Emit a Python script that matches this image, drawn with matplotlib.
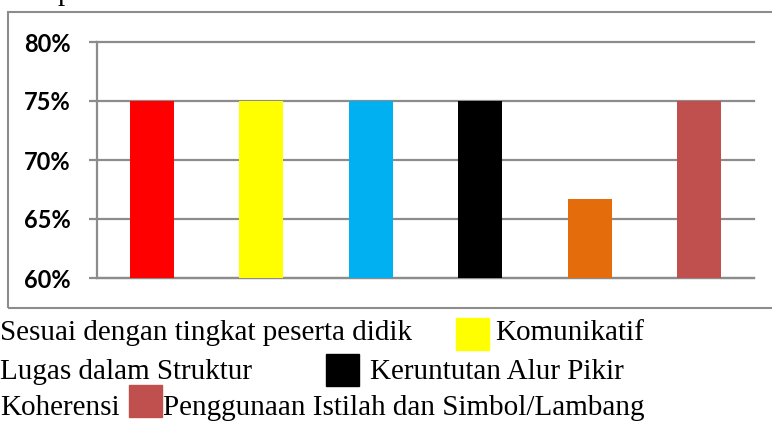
import matplotlib
matplotlib.use('Agg')
import matplotlib.pyplot as plt
from matplotlib.patches import Rectangle
from matplotlib.ticker import FuncFormatter

# aspek penilaian and their scores (percent)
categories = ['Sesuai dengan tingkat peserta didik', 'Komunikatif',
              'Lugas dalam Struktur', 'Keruntutan Alur Pikir',
              'Koherensi', 'Penggunaan Istilah dan Simbol/Lambang']
values = [75, 75, 75, 75, 66.67, 75]
colors = ['#FF0000', '#FFFF00', '#00B0F0', '#000000', '#E46C0A', '#C0504D']
yticks = [60, 65, 70, 75, 80]

W, H = 772, 421
GRID = '#8C8C8C'


def fx(x):
    return x / W


def fy(y):
    return 1 - y / H


fig = plt.figure(figsize=(W / 100, H / 100), dpi=100)

# outer chart frame (right edge falls outside the picture)
fig.patches.append(Rectangle((fx(8), fy(308)), fx(780) - fx(8), fy(12) - fy(308),
                             transform=fig.transFigure, fill=False,
                             edgecolor=GRID, linewidth=1.5))

ax = fig.add_axes([fx(97), fy(278), fx(754) - fx(97), fy(42) - fy(278)])
x = range(len(values))
ax.bar(x, [v - yticks[0] for v in values], bottom=yticks[0], width=0.4,
       color=colors, zorder=3)

ax.set_xlim(-0.5, len(values) - 0.5)
ax.set_ylim(yticks[0], yticks[-1])
ax.set_yticks(yticks)
ax.yaxis.set_major_formatter(FuncFormatter(lambda v, p: f'{v:.0f}%'))
ax.set_xticks([])
ax.grid(axis='y', color=GRID, linewidth=1.6, zorder=0)
for gl in ax.get_ygridlines():
    gl.set_clip_on(False)
ax.tick_params(axis='y', length=5.8, width=1.6, color=GRID, pad=13)
for lab in ax.get_yticklabels():
    lab.set_fontfamily('Lato')
    lab.set_fontweight('bold')
    lab.set_fontsize(17)
for side in ['top', 'right']:
    ax.spines[side].set_visible(False)
ax.spines['left'].set_color(GRID)
ax.spines['left'].set_linewidth(1.6)
ax.spines['bottom'].set_color(GRID)
ax.spines['bottom'].set_linewidth(1.6)

# legend below the frame, the squares for some entries are cut off on the left
serif = dict(fontfamily='Liberation Serif', fontsize=21, va='baseline',
             transform=fig.transFigure)
squares = [(colors[1], 456, 318), (colors[3], 326, 354), (colors[5], 129, 385)]
for c, sx, sy in squares:
    fig.patches.append(Rectangle((fx(sx), fy(sy + 32)), fx(33), 32 / H,
                                 transform=fig.transFigure, color=c))
fig.text(fx(0), fy(340), categories[0], **serif)
fig.text(fx(495), fy(340), categories[1], **serif)
fig.text(fx(0), fy(379), categories[2], **serif)
fig.text(fx(370), fy(379), categories[3], **serif)
fig.text(fx(0), fy(415), categories[4], **serif)
fig.text(fx(163), fy(415), categories[5], **serif)

# caption above, only the descender is visible
fig.text(fx(58), fy(0), 'p', **serif)

fig.savefig('out.png', dpi=100)
